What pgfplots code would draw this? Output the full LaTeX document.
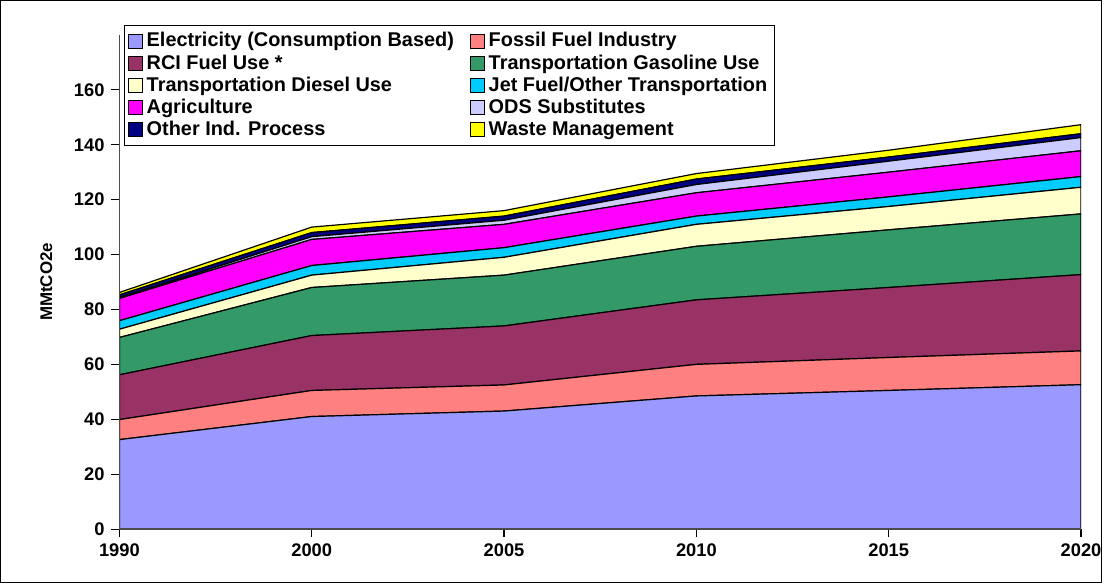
\documentclass[border=0pt]{standalone}
\usepackage{pgfplots}
\pgfplotsset{compat=1.18}
\usepackage{fontspec}
\setmainfont{Liberation Sans}
\definecolor{c1}{HTML}{9999FF}\definecolor{c2}{HTML}{FF8080}\definecolor{c3}{HTML}{993366}
\definecolor{c4}{HTML}{339966}\definecolor{c5}{HTML}{FFFFCC}\definecolor{c6}{HTML}{00CCFF}
\definecolor{c7}{HTML}{FF00FF}\definecolor{c8}{HTML}{CCCCFF}\definecolor{c9}{HTML}{000080}
\definecolor{c10}{HTML}{FFFF00}
\begin{document}
\begin{tikzpicture}[x=0.5pt,y=0.5pt]
\draw[black,line width=0.6pt] (-119.5,-53.5) rectangle (987.5,531.5);
\begin{axis}[at={(0,0)},anchor=south west,scale only axis,
 width=483.5pt,height=248.5pt,
 xmin=0,xmax=5,ymin=0,ymax=180,
 xtick={0,...,5},xticklabels={1990,2000,2005,2010,2015,2020},
 ytick={0,20,...,160},
 axis x line*=bottom, axis y line*=left,
 axis line style={-,line width=0.8pt,gray!60!black},
 tick style={black,line width=0.6pt},
 tick align=outside, major tick length=4pt,
 ticklabel style={font=\bfseries\fontsize{9.2}{10}\selectfont},
 /pgf/number format/assume math mode=true,
 ylabel={\bfseries MMtCO2e},ylabel style={font=\fontsize{8.5}{9}\selectfont},
 ylabel shift=4pt,
 stack plots=y, area style,
 every axis plot/.append style={draw=black,line width=0.6pt},
 legend columns=2,
 legend style={at={(0.005,1.02)},anchor=north west,font=\bfseries\fontsize{10}{10.5}\selectfont,
   draw=black,line width=0.6pt,inner sep=1.5pt,row sep=-1.6pt,
   /tikz/every even column/.append style={column sep=6pt}},
 legend cell align=left,
 legend image code/.code={\draw[#1,line width=0.5pt] (0pt,-3.5pt) rectangle (7pt,3.5pt);},
]
\addplot[fill=c1] coordinates {(0,32.6)(1,41)(2,43)(3,48.5)(4,50.5)(5,52.6)} \closedcycle;
\addplot[fill=c2] coordinates {(0,7.3)(1,9.5)(2,9.5)(3,11.5)(4,12)(5,12.3)} \closedcycle;
\addplot[fill=c3] coordinates {(0,16.3)(1,20)(2,21.5)(3,23.5)(4,25.5)(5,27.8)} \closedcycle;
\addplot[fill=c4] coordinates {(0,13.6)(1,17.5)(2,18.5)(3,19.5)(4,21)(5,22.1)} \closedcycle;
\addplot[fill=c5] coordinates {(0,3.0)(1,4.5)(2,6.5)(3,8)(4,8.5)(5,9.7)} \closedcycle;
\addplot[fill=c6] coordinates {(0,3.1)(1,3.5)(2,3.5)(3,3)(4,3.5)(5,3.9)} \closedcycle;
\addplot[fill=c7] coordinates {(0,8.1)(1,9.5)(2,8.5)(3,8.5)(4,9)(5,9.4)} \closedcycle;
\addplot[fill=c8] coordinates {(0,0.3)(1,1.0)(2,1.5)(3,3)(4,4)(5,4.8)} \closedcycle;
\addplot[fill=c9] coordinates {(0,1.0)(1,1.5)(2,1.5)(3,2)(4,1.5)(5,1.4)} \closedcycle;
\addplot[fill=c10] coordinates {(0,0.9)(1,2.0)(2,2.0)(3,2)(4,2.5)(5,3.3)} \closedcycle;
\legend{Electricity (Consumption Based),Fossil Fuel Industry,RCI Fuel Use *,Transportation Gasoline Use,Transportation Diesel Use,Jet Fuel/Other Transportation,Agriculture,ODS Substitutes,Other Ind. Process,Waste Management}
\end{axis}
\end{tikzpicture}
\end{document}
